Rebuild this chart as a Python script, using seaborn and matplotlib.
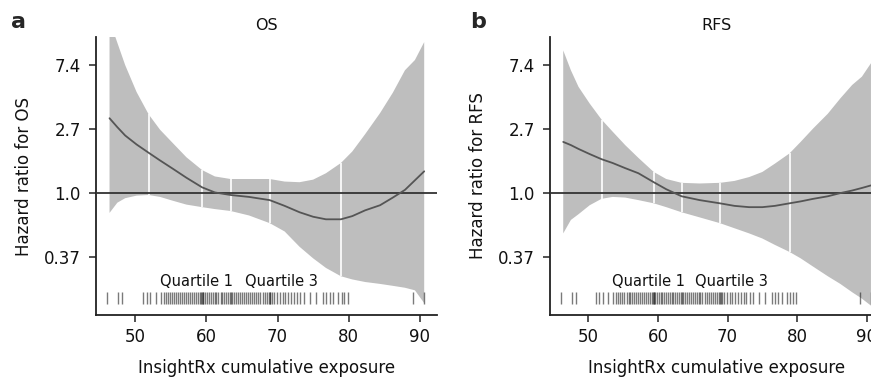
import numpy as np
import pandas as pd
import matplotlib
matplotlib.use("Agg")
import matplotlib.pyplot as plt
import seaborn as sns

# ---------------- data (log hazard ratio scale) ----------------
exposure = [46.4, 47.5, 48.6, 50.2, 51.9, 53.5, 55.3, 57.2, 59.4, 61.2, 63.4, 66.0,
            68.9, 71.0, 73.1, 75.0, 76.8, 78.9, 80.5, 82.3, 84.4, 86.2, 87.9, 89.3, 90.6]

os_upper = [2.70, 2.35, 2.00, 1.58, 1.23, 0.99, 0.78, 0.56, 0.36, 0.26, 0.22, 0.22,
            0.22, 0.18, 0.17, 0.21, 0.31, 0.47, 0.65, 0.92, 1.25, 1.57, 1.92, 2.08, 2.36]
os_lower = [-0.31, -0.15, -0.08, -0.04, -0.03, -0.06, -0.12, -0.18, -0.22, -0.25, -0.28, -0.35,
            -0.47, -0.60, -0.84, -1.02, -1.17, -1.30, -1.35, -1.39, -1.42, -1.45, -1.48, -1.52, -1.72]
os_est = [1.17, 1.03, 0.90, 0.76, 0.63, 0.51, 0.38, 0.24, 0.09, 0.01, -0.03, -0.06,
          -0.11, -0.20, -0.30, -0.37, -0.41, -0.41, -0.36, -0.27, -0.19, -0.07, 0.05, 0.20, 0.34]

rfs_upper = [2.23, 1.92, 1.66, 1.40, 1.15, 0.96, 0.75, 0.55, 0.33, 0.22, 0.16, 0.15,
             0.16, 0.19, 0.25, 0.33, 0.46, 0.62, 0.80, 1.01, 1.24, 1.48, 1.69, 1.82, 2.03]
rfs_lower = [-0.63, -0.42, -0.33, -0.19, -0.09, -0.06, -0.07, -0.11, -0.16, -0.22, -0.30, -0.38,
             -0.47, -0.55, -0.63, -0.71, -0.81, -0.92, -1.02, -1.15, -1.30, -1.42, -1.55, -1.65, -1.76]
rfs_est = [0.80, 0.75, 0.69, 0.61, 0.53, 0.47, 0.39, 0.31, 0.17, 0.06, -0.05, -0.11,
           -0.16, -0.20, -0.22, -0.22, -0.20, -0.16, -0.13, -0.09, -0.05, 0.00, 0.04, 0.08, 0.12]

quantile_marks = [51.9, 59.4, 63.4, 68.9, 78.9]

rug_values = [46.1, 47.6, 48.2, 51.1, 51.6, 52.1, 52.9, 53.6, 54.0, 54.3, 54.6, 54.9, 55.2,
              55.5, 55.8, 56.0, 56.3, 56.6, 56.9, 57.2, 57.4, 57.7, 58.0, 58.3, 58.6, 58.8,
              59.1, 59.3, 59.4, 59.5, 59.6, 59.8, 60.1, 60.4, 60.6, 60.9, 61.2, 61.4, 61.7,
              62.0, 62.2, 62.5, 62.8, 63.0, 63.3, 63.4, 63.6, 63.9, 64.2, 64.5, 64.7, 65.0,
              65.3, 65.6, 65.9, 66.1, 66.4, 66.7, 67.0, 67.3, 67.6, 67.9, 68.2, 68.5, 68.8,
              68.9, 69.0, 69.2, 69.5, 69.9, 70.3, 70.7, 71.1, 71.5, 71.9, 72.3, 72.7, 73.2,
              73.7, 74.5, 75.4, 76.4, 76.8, 77.3, 77.8, 78.5, 79.0, 79.4, 79.9, 89.0, 90.6]

ytick_pos = [-1, 0, 1, 2]
ytick_labels = ["0.37", "1.0", "2.7", "7.4"]
xtick_pos = [50, 60, 70, 80, 90]

panels = [
    ("a", "OS", "Hazard ratio for OS", os_upper, os_lower, os_est),
    ("b", "RFS", "Hazard ratio for RFS", rfs_upper, rfs_lower, rfs_est),
]

# ---------------- style ----------------
sns.set_theme(style="ticks")
plt.rcParams["font.family"] = ["DejaVu Sans"]

W, H = 871, 379
fig = plt.figure(figsize=(W / 100, H / 100), dpi=100)
ax_rects = [
    [96 / W, 1 - 315 / H, (437 - 96) / W, (315 - 37) / H],
    [550 / W, 1 - 315 / H, (883.5 - 550) / W, (315 - 37) / H],
]

band_col = "#BEBEBE"
line_col = "#555555"
ax_col = "#222222"

for rect, (letter, title, ylabel, up, lo, est) in zip(ax_rects, panels):
    ax = fig.add_axes(rect)
    x = np.asarray(exposure)
    up = np.asarray(up)
    lo = np.asarray(lo)
    # confidence band
    ax.fill(np.r_[x, x[::-1]], np.r_[up, lo[::-1]], color=band_col, lw=0, zorder=1)
    # white quantile lines inside band
    qy0 = np.interp(quantile_marks, x, lo)
    qy1 = np.interp(quantile_marks, x, up)
    ax.vlines(quantile_marks, qy0, qy1, color="white", lw=1.2, zorder=2)
    # reference line
    ax.axhline(0, color="#333333", lw=1.3, zorder=3)
    # estimate
    df = pd.DataFrame({"x": exposure, "y": est})
    sns.lineplot(data=df, x="x", y="y", ax=ax, color=line_col, lw=1.3, zorder=4)
    # rug
    ax.vlines(rug_values, -1.73, -1.55, color="#222222", alpha=0.6, lw=1.0, zorder=3)
    ax.text(58.6, -1.39, "Quartile 1", ha="center", va="center", fontsize=10.5, color="#111111")
    ax.text(70.5, -1.39, "Quartile 3", ha="center", va="center", fontsize=10.5, color="#111111")

    ax.set_xlim(44.5, 92.4)
    ax.set_ylim(-1.906, 2.44)
    ax.set_yticks(ytick_pos)
    ax.set_yticklabels(ytick_labels)
    ax.set_xticks(xtick_pos)
    ax.tick_params(axis="both", labelsize=12, length=5, width=1.1, color=ax_col,
                   labelcolor="#111111", direction="out")
    ax.tick_params(axis="y", pad=6)
    ax.tick_params(axis="x", pad=4)
    for s in ["top", "right"]:
        ax.spines[s].set_visible(False)
    for s in ["left", "bottom"]:
        ax.spines[s].set_color(ax_col)
        ax.spines[s].set_linewidth(1.3)
    ax.set_xlabel("InsightRx cumulative exposure", fontsize=12, color="#111111", labelpad=10)
    ax.set_ylabel(ylabel, fontsize=12, color="#111111", labelpad=8)
    ax.set_title(title, fontsize=11.5, color="#111111", pad=5)
    ax.patch.set_alpha(0)

fig.text(18 / W, 1 - 22 / H, "a", fontsize=16, fontweight="bold", ha="center", va="center")
fig.text(478 / W, 1 - 22 / H, "b", fontsize=16, fontweight="bold", ha="center", va="center")

fig.savefig("out.png", dpi=100)
